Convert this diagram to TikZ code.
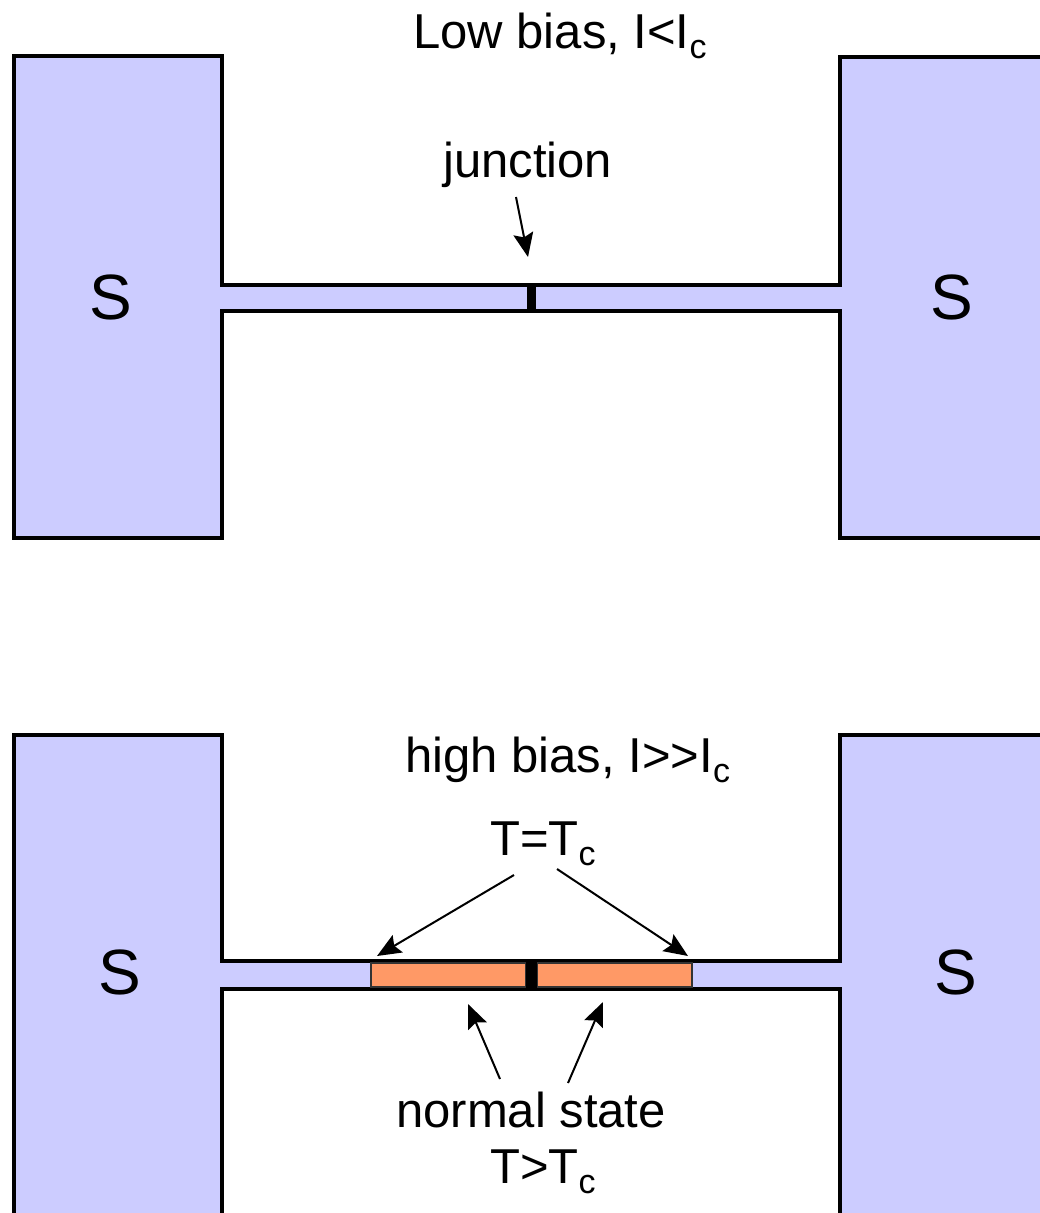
\documentclass[tikz,border=0pt]{standalone}
\usepackage{fontspec}
\setmainfont{Liberation Sans}
\usetikzlibrary{arrows.meta}
\definecolor{scfill}{HTML}{CCCCFF}
\definecolor{nfill}{HTML}{FF9966}
% lowered subscript "c" in the text font
\newcommand\subc{\raisebox{-10pt}{\fontsize{34}{34}\selectfont c}}
\begin{document}
\begin{tikzpicture}[x=1pt,y=-1pt,
  outline/.style={draw=black, line width=4.5pt, fill=scfill, line join=miter},
  lbl/.style={inner sep=0pt, anchor=base west, font=\fontsize{49}{49}\selectfont},
  sym/.style={inner sep=0pt, font=\fontsize{64}{64}\selectfont},
  ptr/.style={line width=2pt, -{Stealth[length=24pt,width=20pt,inset=4pt]}},
  jbar/.style={fill=black, draw=none, inner sep=0pt},
  nseg/.style={fill=nfill, draw=black!80, line width=1.5pt, inner sep=0pt}]

\useasboundingbox (0,0) rectangle (1040,1213);
\clip (0,0) rectangle (1040,1213);
\fill[white] (0,0) rectangle (1040,1213);

% ---------- low bias: two S banks joined by a narrow bridge ----------
\draw[outline] (14,538) -- (14,56) -- (222,56) -- (222,285) -- (840,285)
  -- (840,57) -- (1060,57) -- (1060,538) -- (840,538) -- (840,311)
  -- (222,311) -- (222,538) -- cycle;
\node[jbar, minimum width=9pt, minimum height=26pt] (jbarA) at (531,298) {};

\node[sym] (sA1) at (111,297) {S};
\node[sym] (sA2) at (952,297) {S};
\node[lbl] (titleA) at (413,48) {Low bias, I<I\subc};
\node[lbl] (junc) at (443,177) {junction};

\coordinate (jtail) at (516,197);
\coordinate (jtip) at (528,257);
\draw[ptr] (jtail) -- (jtip);

% ---------- high bias: normal-state regions around the junction ----------
\draw[outline] (14,1230) -- (14,735) -- (222,735) -- (222,961) -- (840,961)
  -- (840,735) -- (1060,735) -- (1060,1230) -- (840,1230) -- (840,989)
  -- (222,989) -- (222,1230) -- cycle;
\node[nseg, minimum width=155pt, minimum height=24pt] (nL) at (448.5,975) {};
\node[nseg, minimum width=155pt, minimum height=24pt] (nR) at (614.5,975) {};
\node[jbar, minimum width=11pt, minimum height=28pt] (jbarB) at (531.5,975) {};

\node[sym] (sB1) at (120,972) {S};
\node[sym] (sB2) at (956,972) {S};
\node[lbl] (titleB) at (405,772) {high bias, I>{}>I\subc};
\node[lbl] (teq) at (490,855) {T=T\subc};
\node[lbl] (norm) at (396,1127) {normal state};
\node[lbl] (tgt) at (490,1183) {T>T\subc};

\coordinate (eqL) at (514,875);
\coordinate (eqR) at (557,869);
\coordinate (edgeL) at (377,956);
\coordinate (edgeR) at (688,956);
\draw[ptr] (eqL) -- (edgeL);
\draw[ptr] (eqR) -- (edgeR);

\coordinate (nmL) at (500,1079);
\coordinate (nmR) at (568,1083);
\coordinate (segL) at (468,1004);
\coordinate (segR) at (603,1002);
\draw[ptr] (nmL) -- (segL);
\draw[ptr] (nmR) -- (segR);
\end{tikzpicture}
\end{document}
